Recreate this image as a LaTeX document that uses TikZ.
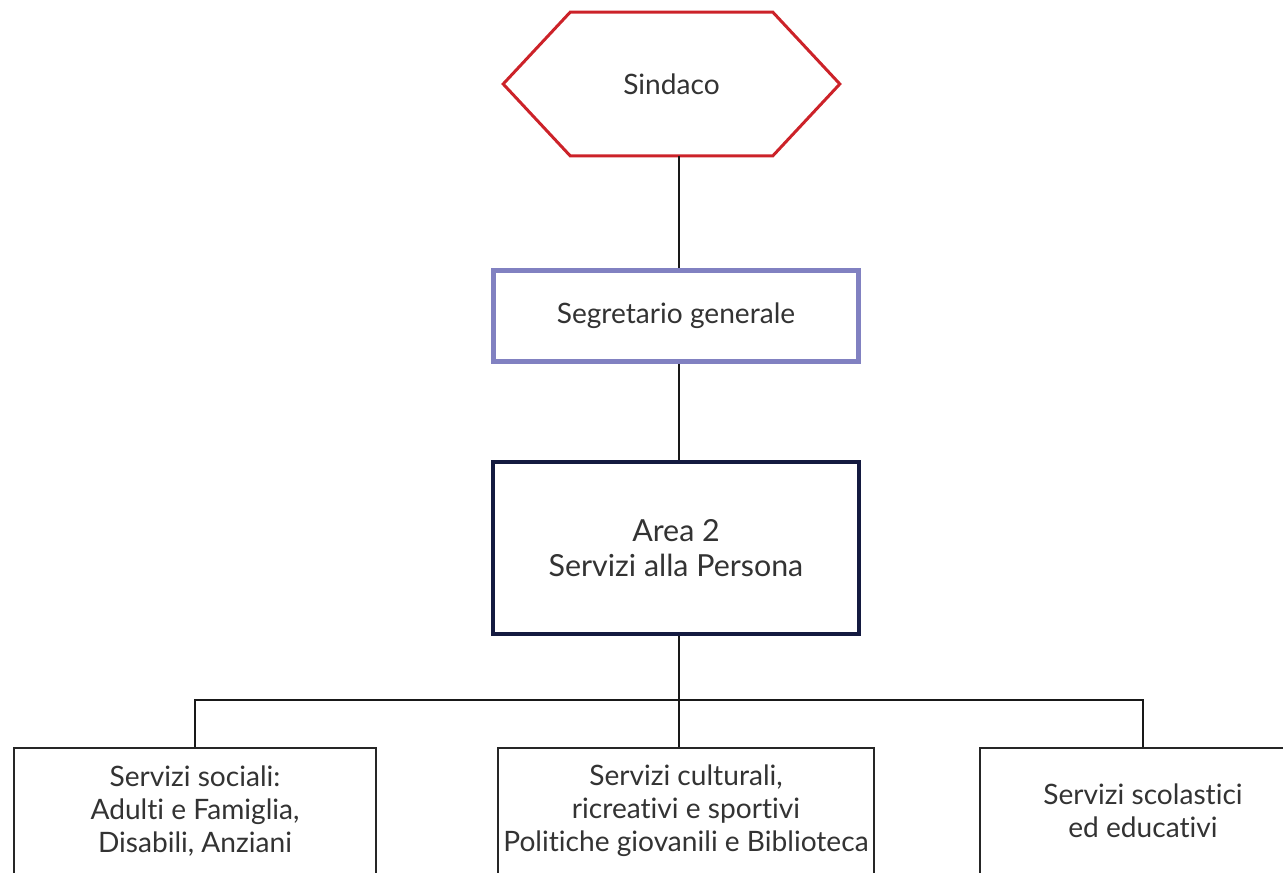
\documentclass[tikz,border=0pt]{standalone}
\usepackage{fontspec}
\setmainfont{Lato}[Ligatures=NoCommon]
\usetikzlibrary{calc, positioning}

\definecolor{sindacored}{HTML}{CC2229}
\definecolor{segrlilac}{HTML}{8181C1}
\definecolor{areanavy}{HTML}{141A40}
\definecolor{textgray}{HTML}{333333}

\begin{document}
\begin{tikzpicture}[x=0.02cm, y=-0.02cm,
  txt/.style={text=textgray, align=center, inner sep=0pt,
    font=\fontsize{16}{18.8}\selectfont},
  link/.style={line width=1.5pt, black!90},
  unitbox/.style={txt, draw=black!85, line width=1.1pt}]
\useasboundingbox (0,0) rectangle (1283,872);

\coordinate (spine) at (679,0);

% Sindaco: elongated hexagon round a plain node
\node[txt, minimum width=6.72cm, minimum height=2.86cm] (sindaco) at (671.5,84) {Sindaco};
\draw[sindacored, line width=1.7pt, line join=miter]
  (sindaco.west) -- ($(sindaco.north west)+(67,0)$)
  -- ($(sindaco.north east)+(-67,0)$) -- (sindaco.east)
  -- ($(sindaco.south east)+(-67,0)$) -- ($(sindaco.south west)+(67,0)$)
  -- cycle;

% Segretario and Area 2
\node[txt, draw=segrlilac, line width=2.8pt, minimum width=7.3cm, minimum height=1.82cm]
  (segr) at (676,316) {Segretario generale};
\node[txt, draw=areanavy, line width=2.3pt, minimum width=7.32cm, minimum height=3.44cm,
  font=\fontsize{17.3}{20}\selectfont]
  (area) at (676,548) {Area 2\\Servizi alla Persona};

% Units
\node[unitbox, minimum width=7.24cm, minimum height=2.52cm] (sociali) at (195,811)
  {Servizi sociali:\\Adulti e Famiglia,\\Disabili, Anziani};
\node[unitbox, minimum width=7.52cm, minimum height=2.52cm] (cultura) at (686,811)
  {Servizi culturali,\\ricreativi e sportivi\\Politiche giovanili e Biblioteca};
\node[unitbox, minimum width=6.52cm, minimum height=2.52cm] (scuola) at (1143,811)
  {Servizi scolastici\\ed educativi};

% Connectors
\coordinate (bus) at (679,700);
\draw[link] (sindaco.south -| spine) -- (segr.north -| spine);
\draw[link] (segr.south -| spine) -- (area.north -| spine);
\draw[link, line width=1.2pt] (area.south -| spine) -- (cultura.north -| spine);
\draw[link, line width=1.6pt] (sociali.north) -- (sociali.north |- bus) -- (scuola.north |- bus) -- (scuola.north);
\end{tikzpicture}
\end{document}
